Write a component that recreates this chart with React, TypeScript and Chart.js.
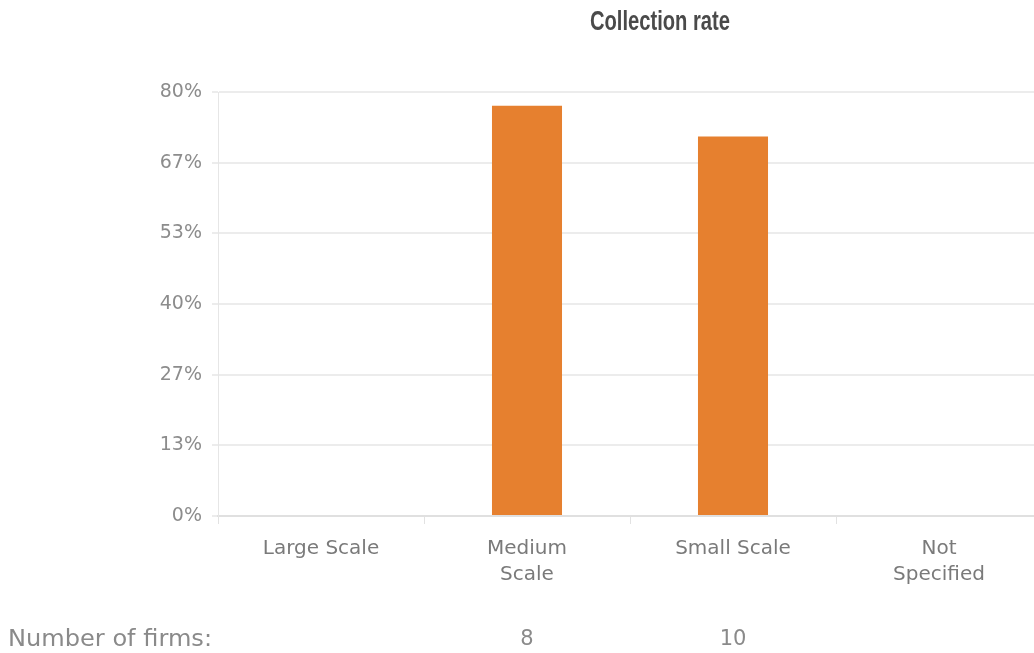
import React, { useEffect, useRef } from "react";
import { Chart, registerables } from "chart.js";

Chart.register(...registerables);

const categories: string[][] = [["Large Scale"], ["Medium", "Scale"], ["Small Scale"], ["Not", "Specified"]];
const collectionRate: (number | null)[] = [null, 77.4, 71.6, null];
const firmCounts: (number | null)[] = [null, 8, 10, null];
const yTickValues: number[] = [0, 80 / 6, 160 / 6, 40, 320 / 6, 400 / 6, 80];
const titleText = "Collection rate";
const firmsLabel = "Number of firms:";

const extrasPlugin = {
  id: "extras",
  afterDraw(chart: any) {
    const ctx = chart.ctx as CanvasRenderingContext2D;
    const xs = chart.scales.x;
    ctx.save();
    ctx.font = "bold 28px 'Liberation Sans Narrow', 'Liberation Sans', sans-serif";
    ctx.fillStyle = "#4a4a4a";
    ctx.textAlign = "center";
    ctx.textBaseline = "middle";
    const w = ctx.measureText(titleText).width;
    const sx = 140 / w;
    ctx.translate(660, 22);
    ctx.scale(sx, 1);
    ctx.fillText(titleText, 0, 0);
    ctx.restore();

    ctx.save();
    ctx.font = "23px 'DejaVu Sans', sans-serif";
    ctx.fillStyle = "#8a8a8a";
    ctx.textBaseline = "middle";
    ctx.textAlign = "left";
    const fw = ctx.measureText(firmsLabel).width;
    ctx.save();
    ctx.translate(8, 640);
    ctx.scale(204 / fw, 1);
    ctx.fillText(firmsLabel, 0, 0);
    ctx.restore();
    ctx.font = "21px 'DejaVu Sans', sans-serif";
    ctx.textAlign = "center";
    firmCounts.forEach((v, i) => {
      if (v == null) return;
      ctx.fillText(String(v), xs.getPixelForValue(i), 640);
    });
    ctx.restore();
  },
};

export default function App() {
  const ref = useRef<HTMLCanvasElement>(null);
  useEffect(() => {
    if (!ref.current) return;
    const chart = new Chart(ref.current, {
      type: "bar",
      data: {
        labels: categories as any,
        datasets: [
          {
            data: collectionRate as any,
            backgroundColor: "#E6802F",
            borderWidth: 0,
            barPercentage: 0.68,
            categoryPercentage: 0.5,
          },
        ],
      },
      options: {
        animation: false,
        responsive: false,
        maintainAspectRatio: false,
        layout: { padding: { top: 92, left: 0, right: 0, bottom: 0 } },
        plugins: { legend: { display: false }, tooltip: { enabled: false }, title: { display: false } },
        scales: {
          x: {
            afterFit: (s: any) => {
              s.height = 137;
            },
            grid: {
              drawOnChartArea: false,
              drawTicks: true,
              tickLength: 8,
              color: "#e2e2e2",
              offset: true,
            },
            border: { color: "#e0e0e0", width: 2 },
            ticks: {
              color: "#7a7a7a",
              font: { family: "'DejaVu Sans', sans-serif", size: 20, lineHeight: 1.3 },
              padding: 12,
              maxRotation: 0,
            },
          },
          y: {
            min: 0,
            max: 80,
            afterFit: (s: any) => {
              s.width = 218;
            },
            afterBuildTicks: (s: any) => {
              s.ticks = yTickValues.map((v) => ({ value: v }));
            },
            grid: { color: "#ececec", lineWidth: 2, tickLength: 6 },
            border: { color: "#e6e6e6", width: 1 },
            ticks: {
              color: "#8c8c8c",
              font: { family: "'DejaVu Sans', sans-serif", size: 19 },
              padding: 10,
              callback: (v: any) => Math.round(Number(v)) + "%",
            },
          },
        },
      },
      plugins: [extrasPlugin],
    });
    return () => chart.destroy();
  }, []);
  return (
    <div style={{ position: "fixed", left: 0, top: 0, width: 1034, height: 653, overflow: "hidden", background: "#fff" }}>
      <canvas ref={ref} width={1042} height={653} style={{ width: 1042, height: 653 }} />
    </div>
  );
}
